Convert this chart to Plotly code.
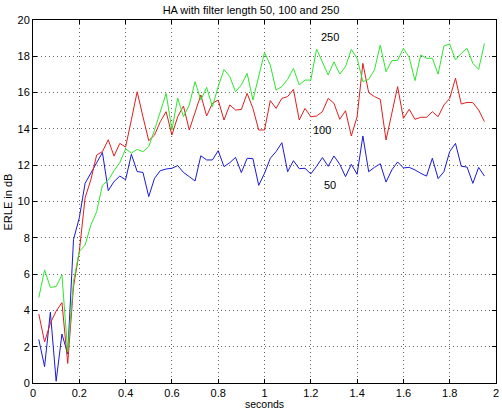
import plotly.graph_objects as go

# time axis: samples every 0.025 s
time_s = [round(0.025 * k, 3) for k in range(1, 79)]

erle_50 = [2.4, 0.9, 3.9, 0.1, 2.7, 1.6, 7.9, 9.1, 11.0, 11.55, 12.1, 12.7, 10.6, 11.1, 11.4, 11.2,
           12.6, 11.65, 11.6, 10.27, 11.28, 11.7, 11.79, 11.83, 11.98, 11.6, 11.37, 11.13, 12.52, 12.29,
           12.29, 12.8, 11.92, 12.14, 12.43, 11.59, 12.38, 12.36, 10.89, 11.55, 12.38, 12.75, 13.24,
           11.64, 12.25, 11.81, 11.83, 11.52, 11.94, 12.42, 11.94, 12.51, 12.05, 11.37, 12.05, 11.5,
           13.61, 11.64, 11.88, 12.08, 11.07, 11.74, 12.18, 11.85, 11.88, 11.74, 11.55, 11.4, 12.38,
           11.26, 11.64, 12.75, 13.2, 11.94, 11.9, 11.0, 11.88, 11.4]

erle_100 = [3.8, 2.26, 3.3, 3.96, 4.43, 1.08, 5.3, 7.24, 10.2, 11.2, 12.56, 12.75, 13.4, 12.5, 13.2, 13.0,
            14.5, 16.05, 14.67, 13.35, 13.66, 14.4, 14.95, 13.66, 14.67, 15.26, 13.94, 14.86, 15.87, 14.71,
            15.41, 15.59, 14.49, 15.32, 15.04, 15.07, 15.96, 15.13, 13.94, 13.94, 15.56, 15.13, 15.68,
            15.78, 16.18, 14.49, 15.13, 14.67, 14.71, 14.95, 15.68, 15.41, 14.53, 15.0, 13.61, 14.67,
            17.61, 16.0, 15.78, 15.63, 13.39, 14.86, 16.33, 14.58, 15.08, 14.53, 14.64, 14.64, 14.95,
            14.67, 15.32, 15.68, 16.79, 15.37, 15.46, 15.45, 15.04, 14.4]

erle_250 = [4.7, 6.23, 5.27, 5.31, 5.95, 1.7, 5.6, 7.24, 7.6, 8.7, 9.44, 10.9, 11.18, 11.7, 12.14, 12.9,
            12.67, 12.87, 12.75, 13.02, 13.94, 14.95, 15.96, 13.94, 15.7, 14.67, 15.32, 16.6, 15.59, 16.29,
            15.22, 16.33, 17.27, 16.88, 16.05, 16.42, 17.06, 15.59, 16.88, 18.2, 17.52, 16.14, 16.33,
            16.73, 17.34, 16.42, 16.69, 16.69, 18.4, 17.7, 16.97, 17.7, 17.02, 17.43, 18.38, 17.89,
            16.6, 16.73, 17.25, 18.62, 17.15, 17.76, 17.78, 18.44, 17.94, 16.66, 18.07, 17.89, 17.89,
            17.02, 18.57, 18.68, 17.8, 18.16, 18.44, 17.61, 17.28, 18.71]

series_labels = ["50", "100", "250"]
label_x = [1.283, 1.248, 1.283]
label_y = [10.9, 13.94, 19.06]

x_ticks = [0, 0.2, 0.4, 0.6, 0.8, 1, 1.2, 1.4, 1.6, 1.8, 2]
x_tick_text = ["0", "0.2", "0.4", "0.6", "0.8", "1", "1.2", "1.4", "1.6", "1.8", "2"]
y_ticks = list(range(0, 21, 2))

colors = ["#1a1ad6", "#e01e1e", "#2ee62e"]

fig = go.Figure()
for vals, col, name in zip([erle_50, erle_100, erle_250], colors, series_labels):
    fig.add_trace(go.Scatter(x=time_s, y=vals, mode="lines", name=name,
                             line=dict(color=col, width=1)))

for t, xx, yy in zip(series_labels, label_x, label_y):
    fig.add_annotation(x=xx, y=yy, text=t, showarrow=False,
                       font=dict(size=11, color="black"), xanchor="center", yanchor="middle")

# axis titles as paper annotations for precise placement
fig.add_annotation(x=0.5, y=0, yshift=-21, xref="paper", yref="paper", text="seconds",
                   showarrow=False, xanchor="center", yanchor="middle",
                   font=dict(size=10.5, color="black"))
fig.add_annotation(x=-0.054, y=0.5, xref="paper", yref="paper", text="ERLE in dB", showarrow=False,
                   textangle=-90, xanchor="center", yanchor="middle", font=dict(size=11, color="black"))

axis_common = dict(showline=True, linecolor="black", linewidth=1, mirror="ticks",
                   ticks="inside", ticklen=4, tickcolor="black", automargin=False,
                   showgrid=True, gridcolor="rgba(0,0,0,0.6)", griddash="1px,3px", gridwidth=1,
                   zeroline=False, tickfont=dict(size=11, color="black"))

fig.update_layout(
    width=502, height=410,
    margin=dict(l=33, r=6, t=20, b=27, autoexpand=False),
    paper_bgcolor="white", plot_bgcolor="white",
    font=dict(family="Liberation Sans, Arial, sans-serif", size=11, color="black"),
    showlegend=False,
    title=dict(text="HA with filter length 50, 100 and 250", x=0.5, xanchor="center",
               y=0.975, yanchor="middle", font=dict(size=11)),
    xaxis=dict(range=[0, 2], tickvals=x_ticks, ticktext=x_tick_text, ticklabelstandoff=0,
               **axis_common),
    yaxis=dict(range=[0, 20], tickvals=y_ticks, **axis_common),
)

fig.write_html("out.html")
